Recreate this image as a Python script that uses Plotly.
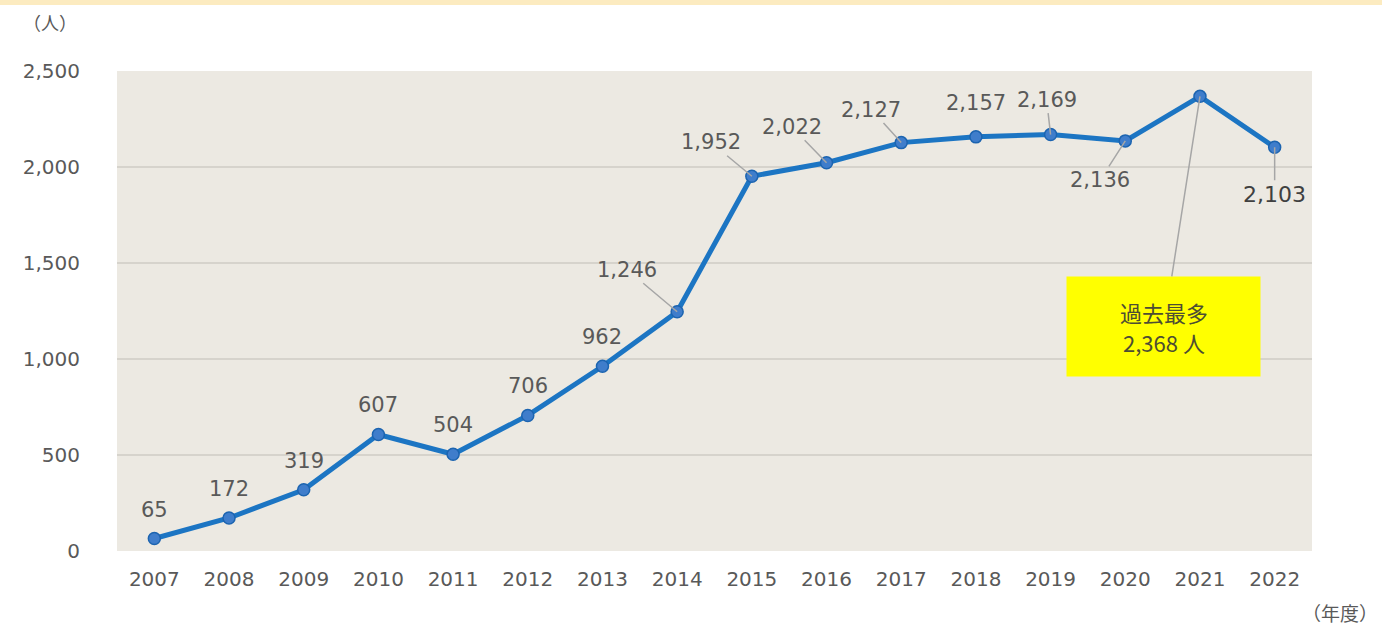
import plotly.graph_objects as go

years = ["2007", "2008", "2009", "2010", "2011", "2012", "2013", "2014",
         "2015", "2016", "2017", "2018", "2019", "2020", "2021", "2022"]
values = [65, 172, 319, 607, 504, 706, 962, 1246,
          1952, 2022, 2127, 2157, 2169, 2136, 2368, 2103]
y_ticks = [0, 500, 1000, 1500, 2000, 2500]
y_tick_text = ["0", "500", "1,000", "1,500", "2,000", "2,500"]
callout_lines = ["過去最多", "2,368 人"]

# label offsets (pixels) for each point: (ax, ay, show leader line)
label_offsets = {
    "2014": (-50, -42, True),
    "2015": (-41, -34, True),
    "2016": (-35, -36, True),
    "2017": (-30, -33, True),
    "2018": (0, -34, False),
    "2019": (-4, -35, True),
    "2020": (-25, 39, True),
    "2022": (0, 47, True),
}

W, H = 1382, 626
ML, MR, MT, MB = 117, 70, 71, 75
PW, PH = W - ML - MR, H - MT - MB
font_family = "DejaVu Sans, Noto Sans CJK JP, sans-serif"
cjk_family = "Noto Sans CJK JP, sans-serif"
grey = "#595959"

fig = go.Figure()
fig.add_trace(go.Scatter(
    x=list(range(len(years))), y=values, mode="lines+markers",
    line=dict(color="#1C75C3", width=5),
    marker=dict(size=12, color="#3F7DCB", line=dict(color="#1C64B0", width=1.5)),
    hoverinfo="skip",
))

annotations = []
for i, (yr, v) in enumerate(zip(years, values)):
    if yr == "2021":
        annotations.append(dict(
            x=i, y=v, xref="x", yref="y",
            ax=-36, ay=230, showarrow=True, arrowhead=0, arrowwidth=1.5,
            arrowcolor="#A6A6A6", text=" ",
            font=dict(size=10, color="#4d4d33", family=cjk_family),
            bgcolor="#FFFF00", width=193, height=99, borderpad=0,
        ))
        for k, line in enumerate(callout_lines):
            annotations.append(dict(
                x=i, y=v, xref="x", yref="y", showarrow=False,
                xshift=-36, yshift=-(216 + 30 * k), text=line,
                font=dict(size=22, color="#4d4d33", family=cjk_family),
            ))
        continue
    txt = f"{v:,}"
    if yr in label_offsets:
        ax, ay, show = label_offsets[yr]
        fs = 22 if yr == "2022" else 21
        col = "#404040" if yr == "2022" else grey
        annotations.append(dict(
            x=i, y=v, xref="x", yref="y", ax=ax, ay=ay,
            showarrow=True, arrowhead=0, arrowwidth=1.5,
            arrowcolor="#A6A6A6" if show else "rgba(0,0,0,0)",
            text=txt, font=dict(size=fs, color=col, family=font_family),
        ))
    else:
        annotations.append(dict(
            x=i, y=v, xref="x", yref="y", showarrow=False, yshift=29,
            text=txt, font=dict(size=21, color=grey, family=font_family),
        ))

annotations.append(dict(
    x=(50 - ML) / PW, y=1 + (MT - 22) / PH, xref="paper", yref="paper",
    xanchor="center", yanchor="middle",
    text="（人）", showarrow=False,
    font=dict(size=18, color=grey, family=cjk_family),
))
annotations.append(dict(
    x=(1340 - ML) / PW, y=-(612 - (H - MB)) / PH, xref="paper", yref="paper",
    xanchor="center", yanchor="middle",
    text="（年度）", showarrow=False,
    font=dict(size=19, color=grey, family=cjk_family),
))

shapes = [dict(
    type="rect", xref="paper", yref="paper", x0=-ML / PW, x1=1 + MR / PW,
    y0=1 + (MT - 5) / PH, y1=1 + MT / PH, fillcolor="#FCEBC0", line=dict(width=0), layer="below",
)]

fig.update_layout(
    width=W, height=H,
    margin=dict(l=ML, r=MR, t=MT, b=MB),
    paper_bgcolor="white", plot_bgcolor="#ECE9E2",
    showlegend=False,
    font=dict(family=font_family, color=grey),
    annotations=annotations, shapes=shapes,
    xaxis=dict(range=[-0.5, 15.5], tickvals=list(range(len(years))), ticktext=years,
               showgrid=False, zeroline=False,
               showline=False, ticks="", tickfont=dict(size=20, color=grey),
               ticklabelstandoff=14, fixedrange=True),
    yaxis=dict(range=[0, 2500], tickvals=y_ticks, ticktext=y_tick_text,
               showgrid=True, gridcolor="#D6D3CC", gridwidth=1.5, zeroline=False,
               showline=False, ticks="", tickfont=dict(size=20, color=grey),
               ticklabelstandoff=36, fixedrange=True),
)

fig.write_html("out.html", config={"displayModeBar": False},
               post_script="document.body.style.margin='0px';")
